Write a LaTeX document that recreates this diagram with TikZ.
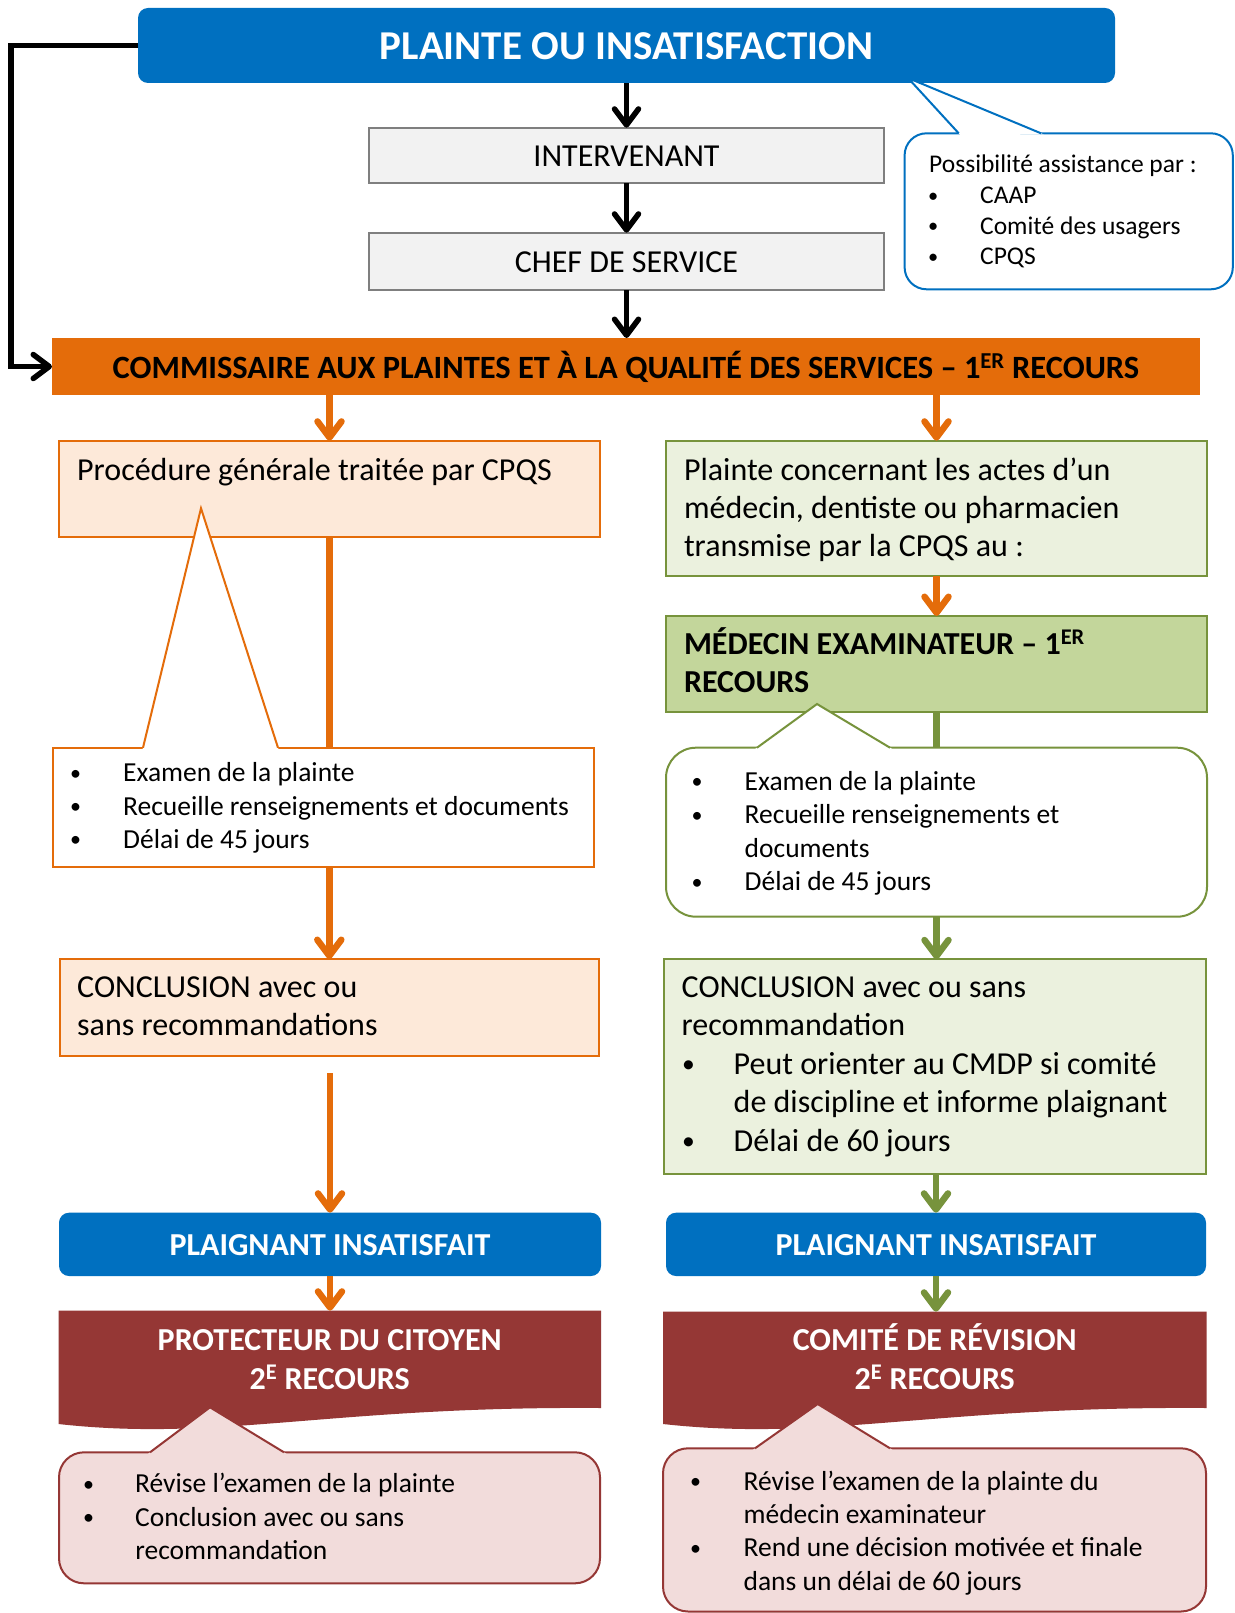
\documentclass[tikz,border=0pt]{standalone}
\usepackage{fontspec}
\usepackage{graphicx}
\setmainfont{Carlito}
\usetikzlibrary{arrows.meta,fit,calc}
\definecolor{cblue}{HTML}{0070C0}
\definecolor{corange}{HTML}{E46C0A}
\definecolor{cpeach}{HTML}{FDE9D9}
\definecolor{cgreen}{HTML}{77933C}
\definecolor{cgreenl}{HTML}{EBF1DE}
\definecolor{cgreenm}{HTML}{C3D69B}
\definecolor{cred}{HTML}{953735}
\definecolor{cpink}{HTML}{F2DCDB}
\definecolor{cgrayf}{HTML}{F2F2F2}
\definecolor{cgrayd}{HTML}{7F7F7F}
\newcommand\myfT{\fontsize{41}{49}\selectfont\bfseries}
\newcommand\myfL{\fontsize{32}{38.4}\selectfont}
\newcommand\myfB{\fontsize{32}{38.4}\selectfont\bfseries}
\newcommand\myfS{\fontsize{27.5}{33.5}\selectfont}
\newcommand\myfC{\fontsize{25.5}{31}\selectfont}
\newcommand\mybul[1]{\makebox[#1][l]{\raisebox{0.06em}{\scalebox{0.8}{•}}}}
\newcommand\mypointer[5]{%
  \fill[#1] (#3) -- ($(#4)!-3pt!(#3)$) -- ($(#5)!-3pt!(#3)$) -- cycle;
  \draw[#2, line width=2pt, line join=miter] (#4) -- (#3) -- (#5);}
\newcommand\myredshape[3]{%
  \fill[cred] (#1,#3) -- (#2,#3) -- (#2,1408)
    .. controls ({#1+0.5*(#2-#1)},1406) and ({#1+0.3*(#2-#1)},1442) .. (#1,1424) -- cycle;}
\begin{document}
\begin{tikzpicture}[x=1pt,y=-1pt,
  frame/.style={inner sep=0pt, outer sep=0pt, rectangle},
  tL/.style={anchor=base west, inner sep=0pt, font=\myfL},
  tS/.style={anchor=base west, inner sep=0pt, font=\myfS},
  tC/.style={anchor=base west, inner sep=0pt, font=\myfC},
  tcen/.style={anchor=base, inner sep=0pt},
  tipb/.tip={Straight Barb[length=16pt, width=24pt, round]},
  barrow/.style={draw=black, line width=5.5pt, -tipb},
  oarrow/.style={draw=corange, line width=6.5pt, -tipb},
  garrow/.style={draw=cgreen, line width=6.5pt, -tipb},
  oline/.style={draw=corange, line width=6.5pt},
  gline/.style={draw=cgreen, line width=6.5pt},
  bluebox/.style={frame, rounded corners=10pt, fill=cblue},
  graybox/.style={frame, fill=cgrayf, draw=cgrayd, line width=2pt},
  peachbox/.style={frame, fill=cpeach, draw=corange, line width=2pt},
  greenbox/.style={frame, fill=cgreenl, draw=cgreen, line width=2pt},
]
\fill[white] (0,0) rectangle (1234,1613);
\useasboundingbox (0,0) rectangle (1234,1613);

% ---------- top ----------
\node[bluebox, fit={(138,8) (1115,83)}] (title) {};
\node[tcen, font=\myfT, text=white] (titlet) at (626.5,60) {PLAINTE OU INSATISFACTION};

\node[graybox, fit={(369,127.7) (884,183.3)}] (interv) {};
\node[tcen, font=\myfL] (intervt) at (626.5,166.5) {INTERVENANT};
\node[graybox, fit={(369,232.7) (884,290)}] (chef) {};
\node[tcen, font=\myfL] (cheft) at (626.5,272.5) {CHEF DE SERVICE};

\node[frame, fill=corange, fit={(52,338) (1200,395)}] (cpqs) {};
\node[tcen, font=\fontsize{32.5}{39}\selectfont\bfseries] (cpqst) at (626,378)
  {COMMISSAIRE AUX PLAINTES ET À LA QUALITÉ DES SERVICES – 1\textsuperscript{ER} RECOURS};

% assistance callout
\node[frame, rounded corners=22pt, fill=white, draw=cblue, line width=2pt,
      fit={(904.6,133.3) (1232.8,289.3)}] (assist) {};
\mypointer{white}{cblue}{908,78}{958.7,133.3}{1041,133.3}
\node[tC] (as0) at (929,173) {Possibilité assistance par :};
\node[tC] (as1) at (928,204) {\mybul{52pt}CAAP};
\node[tC] (as2) at (928,234.5) {\mybul{52pt}Comité des usagers};
\node[tC] (as3) at (928,265) {\mybul{52pt}CPQS};

\coordinate (elb) at (11,45.5);
\draw[barrow] (title.west) -- (elb) |- (cpqs.west);
\draw[barrow] (title) -- (interv);
\draw[barrow] (interv) -- (chef);
\draw[barrow] (chef.south) -- (chef.south |- cpqs.north);

% ---------- left column ----------
\node[peachbox, fit={(59,440.7) (600,536.7)}] (proc) {};
\node[tL] (proct) at (77,480) {Procédure générale traitée par CPQS};
\draw[oarrow] (cpqs.south -| proc.north) -- (proc.north);

\node[frame, fill=white, draw=corange, line width=2pt, fit={(52.6,747.7) (594,866.7)}] (lbul) {};
\mypointer{white}{corange}{201,508.3}{143,747.7}{278,747.7}
\node[tS] (lb1) at (70,781.7) {\mybul{53pt}Examen de la plainte};
\node[tS] (lb2) at (70,815) {\mybul{53pt}Recueille renseignements et documents};
\node[tS] (lb3) at (70,848.3) {\mybul{53pt}Délai de 45 jours};
\draw[oline] (proc.south) -- (proc.south |- lbul.north);

\node[peachbox, fit={(59.6,959) (599,1055.7)}] (lconc) {};
\node[tL] (lc1) at (77,997.3) {CONCLUSION avec ou};
\node[tL] (lc2) at (77,1035.7) {sans recommandations};
\draw[oarrow] (lconc.north |- lbul.south) -- (lconc.north);

\node[bluebox, fit={(59,1212.7) (601,1276)}] (lplaig) {};
\node[tcen, font=\myfB, text=white] (lplaigt) at (330,1255) {PLAIGNANT INSATISFAIT};
\path (lplaig.north) ++(0,-139.5) coordinate (lgap);
\draw[oarrow] (lgap) -- (lplaig.north);

\myredshape{58.5}{601}{1310.7}
\coordinate (lredtop) at (330,1310.7);
\draw[oarrow] (lplaig.south) -- (lredtop);
\node[tcen, font=\myfB, text=white] (lr1) at (329.75,1350.5) {PROTECTEUR DU CITOYEN};
\node[tcen, font=\myfB, text=white] (lr2) at (329.75,1389) {2\textsuperscript{E} RECOURS};

\node[frame, rounded corners=25pt, fill=cpink, draw=cred, line width=2pt,
      fit={(59,1452.3) (600,1583.3)}] (lpink) {};
\mypointer{cpink}{cred}{210,1407.3}{150,1452.3}{284,1452.3}
\node[tS] (lp1) at (83,1492.7) {\mybul{52pt}Révise l’examen de la plainte};
\node[tS] (lp2) at (83,1526) {\mybul{52pt}Conclusion avec ou sans};
\node[tS] (lp3) at (135.2,1559.3) {recommandation};

% ---------- right column ----------
\node[greenbox, fit={(666,440.7) (1207,576)}] (gr1) {};
\node[tL] (gr1a) at (683.8,480) {Plainte concernant les actes d’un};
\node[tL] (gr1b) at (683.8,518.3) {médecin, dentiste ou pharmacien};
\node[tL] (gr1c) at (683.8,556.7) {transmise par la CPQS au :};
\draw[oarrow] (cpqs.south -| gr1.north) -- (gr1.north);

\node[frame, fill=cgreenm, draw=cgreen, line width=2pt, fit={(666,616) (1207,711.7)}] (med) {};
\node[tL, font=\myfB] (meda) at (683.8,654) {MÉDECIN EXAMINATEUR – 1\textsuperscript{ER}};
\node[tL, font=\myfB] (medb) at (683.8,692.7) {RECOURS};
\draw[oarrow] (gr1) -- (med);

\node[frame, rounded corners=30pt, fill=white, draw=cgreen, line width=2pt,
      fit={(666,747.7) (1207,916.7)}] (rbul) {};
\mypointer{white}{cgreen}{817,704}{757,747.7}{890,747.7}
\draw[gline] (med.south) -- (rbul.north);
\node[tS] (rb1) at (691.5,790) {\mybul{53pt}Examen de la plainte};
\node[tS] (rb2) at (691.5,823.7) {\mybul{53pt}Recueille renseignements et};
\node[tS] (rb3) at (744.5,857.2) {documents};
\node[tS] (rb4) at (691.5,890.7) {\mybul{53pt}Délai de 45 jours};

\node[greenbox, fit={(664,959.3) (1206,1174)}] (rconc) {};
\node[tL] (rc1) at (681.5,997.3) {CONCLUSION avec ou sans};
\node[tL] (rc2) at (681.5,1035.8) {recommandation};
\node[tL] (rc3) at (682,1074.3) {\mybul{51.5pt}Peut orienter au CMDP si comité};
\node[tL] (rc4) at (733.5,1112.8) {de discipline et informe plaignant};
\node[tL] (rc5) at (682,1151.3) {\mybul{51.5pt}Délai de 60 jours};
\draw[garrow] (rbul.south) -- (rbul.south |- rconc.north);

\node[bluebox, fit={(666,1212.7) (1206,1276)}] (rplaig) {};
\node[tcen, font=\myfB, text=white] (rplaigt) at (936,1255) {PLAIGNANT INSATISFAIT};
\draw[garrow] (rplaig.north |- rconc.south) -- (rplaig.north);

\myredshape{663}{1206.5}{1311.7}
\coordinate (rredtop) at (936,1311.7);
\draw[garrow] (rplaig.south) -- (rredtop);
\node[tcen, font=\myfB, text=white] (rr1) at (934.75,1350.5) {COMITÉ DE RÉVISION};
\node[tcen, font=\myfB, text=white] (rr2) at (934.75,1389) {2\textsuperscript{E} RECOURS};

\node[frame, rounded corners=25pt, fill=cpink, draw=cred, line width=2pt,
      fit={(663,1448.3) (1206,1611.5)}] (rpink) {};
\mypointer{cpink}{cred}{817.7,1404}{755,1448.3}{890,1448.3}
\node[tS] (rp1) at (690,1490) {\mybul{53.5pt}Révise l’examen de la plainte du};
\node[tS] (rp2) at (743.4,1523.3) {médecin examinateur};
\node[tS] (rp3) at (690,1556.7) {\mybul{53.5pt}Rend une décision motivée et finale};
\node[tS] (rp4) at (743.4,1590.5) {dans un délai de 60 jours};
\end{tikzpicture}
\end{document}
